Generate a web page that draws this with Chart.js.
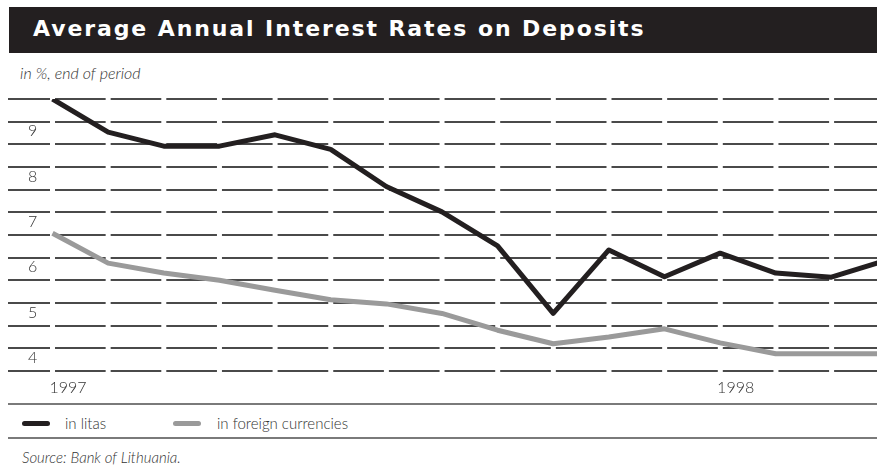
<!DOCTYPE html>
<html>
<head>
<meta charset="utf-8">
<script src="https://cdn.jsdelivr.net/npm/chart.js@4"></script>
<style>
  body { margin: 0; width: 877px; height: 468px; background: #fff; position: relative; overflow: hidden;
         font-family: "Lato", "Open Sans", sans-serif; font-weight: 300; color: #333; }
  .title-bar { position: absolute; left: 9px; top: 7px; width: 868px; height: 46px; background: #231f20; }
  .title-bar span { position: absolute; left: 24px; top: 0; line-height: 44px; color: #fff;
         font-family: "DejaVu Sans", sans-serif; font-weight: bold; font-size: 22px; letter-spacing: 1.9px; white-space: nowrap; }
  .subtitle { position: absolute; left: 20px; top: 63px; font-size: 16px; font-style: italic; line-height: 20px; }
  .rule { position: absolute; left: 8px; width: 869px; height: 2px; background: #7a7a7a; }
  .legend { position: absolute; top: 413px; left: 0; height: 20px; font-size: 15px; line-height: 20px; }
  .legend .sw { position: absolute; top: 8px; width: 28px; height: 5px; border-radius: 3px; }
  .legend .lb { position: absolute; top: 0; white-space: nowrap; }
  .source { position: absolute; left: 22px; top: 447px; font-size: 15px; font-style: italic; line-height: 20px; }
  #wrap { position: absolute; left: 0; top: 90px; width: 877px; height: 310px; }
</style>
</head>
<body>
<div class="title-bar"><span>Average Annual Interest Rates on Deposits</span></div>
<div class="subtitle">in %, end of period</div>
<div id="wrap"><canvas id="chart-rates"></canvas></div>
<div class="rule" style="top:403px"></div>
<div class="legend">
  <div class="sw" style="left:22px;background:#231f20"></div><div class="lb" style="left:65px">in litas</div>
  <div class="sw" style="left:173px;background:#9a9a9a"></div><div class="lb" style="left:217px">in foreign currencies</div>
</div>
<div class="rule" style="top:437px"></div>
<div class="source">Source: Bank of Lithuania.</div>

<script>
// months Jan 1997 .. Apr 1998
const months = [
  "1997-01", "1997-02", "1997-03", "1997-04", "1997-05", "1997-06", "1997-07", "1997-08",
  "1997-09", "1997-10", "1997-11", "1997-12", "1998-01", "1998-02", "1998-03", "1998-04"
];
// year labels shown under the axis (index into months)
const yearTickIndex = [0, 12];
const yearTickLabels = ["1997", "1998"];

// y axis labels (values 4..9)
const yTickLabels = [4, 5, 6, 7, 8, 9];

const ratesLitas = [10.0, 9.27, 8.96, 8.96, 9.21, 8.89, 8.07, 7.51, 6.76, 5.27, 6.67, 6.08, 6.6, 6.16, 6.07, 6.45];
const ratesForeign = [7.04, 6.38, 6.16, 6.0, 5.78, 5.57, 5.48, 5.27, 4.9, 4.6, 4.75, 4.93, 4.62, 4.38, 4.38, 4.38];

const toPoints = (arr) => arr.map((v, i) => ({ x: i, y: v }));

const ctxRates = document.getElementById("chart-rates");
new Chart(ctxRates, {
  type: "line",
  data: {
    datasets: [
      {
        label: "in litas",
        data: toPoints(ratesLitas),
        pointRadius: 0,
        borderWidth: 5,
        borderColor: "#231f20",
        borderJoinStyle: "round",
        tension: 0,
      },
      {
        label: "in foreign currencies",
        data: toPoints(ratesForeign),
        pointRadius: 0,
        borderWidth: 5,
        borderColor: "#9a9a9a",
        borderJoinStyle: "round",
        tension: 0,
      },
    ],
  },
  options: {
    responsive: true,
    maintainAspectRatio: false,
    animation: false,
    layout: { autoPadding: false, padding: { left: 8, top: 9, right: 0, bottom: 3 } },
    plugins: { legend: { display: false }, tooltip: { enabled: false } },
    scales: {
      x: {
        type: "linear",
        bounds: "data",
        min: -0.8,
        max: 14.82,
        grid: { display: false, drawTicks: false },
        border: { display: false },
        afterBuildTicks: (axis) => {
          axis.ticks = yearTickIndex.map((v) => ({ value: v }));
        },
        afterFit: (axis) => {
          axis.height = 26;
          axis.paddingLeft = 0;
          axis.paddingRight = 0;
        },
        ticks: {
          align: "start",
          maxRotation: 0,
          autoSkip: false,
          padding: 7,
          labelOffset: -3,
          color: "#333",
          font: { family: "Lato", size: 16, weight: "300" },
          callback: (value) => {
            const k = yearTickIndex.indexOf(value);
            return k >= 0 ? yearTickLabels[k] : "";
          },
        },
      },
      y: {
        min: 4,
        max: 10,
        afterFit: (axis) => {
          axis.width = 0;
          axis.paddingTop = 0;
          axis.paddingBottom = 0;
        },
        grid: { color: "#4a4a4a", lineWidth: 2, drawTicks: false },
        border: { display: false, dash: [50.65, 5], dashOffset: 8.65 },
        ticks: {
          stepSize: 0.5,
          mirror: true,
          padding: 20,
          labelOffset: -13,
          color: "#333",
          font: { family: "Lato", size: 16, weight: "300" },
          callback: (value) => (yTickLabels.includes(value) ? String(value) : ""),
        },
      },
    },
  },
});
</script>
</body>
</html>
